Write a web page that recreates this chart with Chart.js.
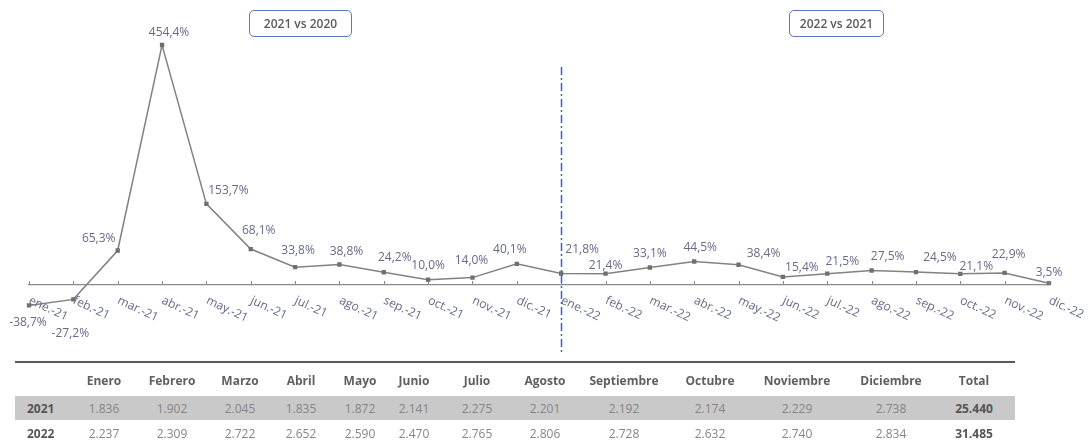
<!DOCTYPE html>
<html lang="es">
<head>
<meta charset="utf-8">
<script src="https://cdn.jsdelivr.net/npm/chart.js@4.4.1/dist/chart.umd.min.js"></script>
<style>
  html, body { margin: 0; padding: 0; background: #fff; }
  #wrap { position: relative; width: 1088px; height: 441px; overflow: hidden; font-family: "Open Sans", sans-serif; }
  #chart { position: absolute; left: 0; top: 0; }
  .tag { position: absolute; top: 10px; height: 25px; line-height: 25px; text-align: center;
         border: 1.5px solid #5b78c2; border-radius: 5px; font-size: 12px; font-weight: 600; color: #5a5a5a; }
  .cell { position: absolute; transform: translate(-50%, -50%); font-size: 12px; white-space: nowrap; }
  .head { font-weight: 700; color: #5f5f5f; }
  .num { color: #858585; }
  .bold { font-weight: 700; color: #555; }
  #rule { position: absolute; left: 15px; width: 1000px; top: 361px; height: 1.5px; background: #5a5a5a; }
  #band { position: absolute; left: 15px; width: 1000px; top: 396px; height: 24px; background: #c9c9c9; }
</style>
</head>
<body>
<div id="wrap">
  <canvas id="chart" width="1088" height="441"></canvas>
  <div id="rule"></div>
  <div id="band"></div>
</div>
<script>
// Monthly variation vs same month of the previous year (%)
const months = ['ene.-21', 'feb.-21', 'mar.-21', 'abr.-21', 'may.-21', 'jun.-21',
                'jul.-21', 'ago.-21', 'sep.-21', 'oct.-21', 'nov.-21', 'dic.-21',
                'ene.-22', 'feb.-22', 'mar.-22', 'abr.-22', 'may.-22', 'jun.-22',
                'jul.-22', 'ago.-22', 'sep.-22', 'oct.-22', 'nov.-22', 'dic.-22'];
const variation = [-38.7, -27.2, 65.3, 454.4, 153.7, 68.1, 33.8, 38.8, 24.2, 10.0, 14.0, 40.1,
                   21.8, 21.4, 33.1, 44.5, 38.4, 15.4, 21.5, 27.5, 24.5, 21.1, 22.9, 3.5];
const periodTags = ['2021 vs 2020', '2022 vs 2021'];

// Table below the chart
const tableMonths = ['Enero', 'Febrero', 'Marzo', 'Abril', 'Mayo', 'Junio', 'Julio',
                     'Agosto', 'Septiembre', 'Octubre', 'Noviembre', 'Diciembre'];
const years = ['2021', '2022'];
const units2021 = [1836, 1902, 2045, 1835, 1872, 2141, 2275, 2201, 2192, 2174, 2229, 2738];
const units2022 = [2237, 2309, 2722, 2652, 2590, 2470, 2765, 2806, 2728, 2632, 2740, 2834];
const totals = [25440, 31485];

// layout only: label nudges relative to each point [dx, dy]
const labelNudge = [[-1, 17], [-3, 34], [-19, -12], [7, -12], [22, -13], [8, -18],
                    [3, -17], [7, -13], [11, -15], [0, -14], [-1, -17], [-7, -14],
                    [21, -24], [0, -8], [0, -14], [6, -14], [25, -11], [19, -9],
                    [15, -12], [16, -14], [24, -14], [16, -7], [4, -18], [0, -11]];

const fmtInt = n => n.toString().replace(/\B(?=(\d{3})+(?!\d))/g, '.');
const fmtPct = v => v.toFixed(1).replace('.', ',') + '%';
const textColor = '#666a88';

const pointLabels = {
  id: 'pointLabels',
  afterDatasetsDraw(chart) {
    const ctx = chart.ctx;
    const pts = chart.getDatasetMeta(0).data;
    ctx.save();
    ctx.font = '12px "Open Sans", sans-serif';
    ctx.fillStyle = textColor;
    ctx.textAlign = 'center';
    ctx.textBaseline = 'middle';
    pts.forEach((p, i) => {
      ctx.fillText(fmtPct(variation[i]), p.x + labelNudge[i][0], p.y + labelNudge[i][1]);
    });
    ctx.restore();
  }
};

// upward tick marks, slanted month labels hanging from the zero line, year separator
const axisDecor = {
  id: 'axisDecor',
  afterDraw(chart) {
    const ctx = chart.ctx;
    const x = chart.scales.x, y = chart.scales.y;
    const zero = y.getPixelForValue(0);
    ctx.save();
    ctx.strokeStyle = '#8a8a8a';
    ctx.lineWidth = 1;
    months.forEach((m, i) => {
      const px = Math.round(x.getPixelForValue(i)) + 0.5;
      ctx.beginPath();
      ctx.moveTo(px, zero - 4);
      ctx.lineTo(px, zero);
      ctx.stroke();
    });
    ctx.font = '12px "Open Sans", sans-serif';
    ctx.fillStyle = textColor;
    ctx.textAlign = 'left';
    ctx.textBaseline = 'alphabetic';
    months.forEach((m, i) => {
      ctx.save();
      ctx.translate(x.getPixelForValue(i) - 1, zero + 18);
      ctx.rotate(25 * Math.PI / 180);
      ctx.fillText(m, 0, 0);
      ctx.restore();
    });
    const sx = Math.round(x.getPixelForValue(12)) + 0.5;
    ctx.strokeStyle = '#3f5fd0';
    ctx.lineWidth = 1.5;
    ctx.setLineDash([8, 3, 2, 3]);
    ctx.beginPath();
    ctx.moveTo(sx, 67);
    ctx.lineTo(sx, 355);
    ctx.stroke();
    ctx.restore();
  }
};

new Chart(document.getElementById('chart'), {
  type: 'line',
  data: {
    labels: months,
    datasets: [{
      data: variation,
      borderColor: '#828282',
      borderWidth: 1.5,
      pointStyle: 'rect',
      pointRadius: 2,
      pointBackgroundColor: '#707070',
      pointBorderColor: '#707070',
      tension: 0
    }]
  },
  options: {
    responsive: false,
    animation: false,
    layout: { padding: { left: 29, right: 39, top: 31.5, bottom: 124.3 } },
    plugins: { legend: { display: false }, tooltip: { enabled: false } },
    scales: {
      x: {
        position: { y: 0 },
        offset: false,
        ticks: { display: false },
        grid: { drawOnChartArea: false, drawTicks: false },
        border: { display: true, color: '#8a8a8a', width: 1.2 }
      },
      y: { display: false, min: -60, max: 480 }
    }
  },
  plugins: [pointLabels, axisDecor]
});

// period tags
const wrap = document.getElementById('wrap');
[[249, 101], [789, 93]].forEach((box, i) => {
  const d = document.createElement('div');
  d.className = 'tag';
  d.style.left = box[0] + 'px';
  d.style.width = box[1] + 'px';
  d.textContent = periodTags[i];
  wrap.appendChild(d);
});

// table
const colX = [104, 172, 240, 301, 360, 414, 477, 545, 624, 710, 797, 891];
const totalX = 974;
function cell(text, x, y, cls) {
  const d = document.createElement('div');
  d.className = 'cell ' + cls;
  d.style.left = x + 'px';
  d.style.top = y + 'px';
  d.textContent = text;
  wrap.appendChild(d);
}
tableMonths.forEach((m, i) => cell(m, colX[i], 380, 'head'));
cell('Total', totalX, 380, 'head');
[units2021, units2022].forEach((row, r) => {
  const y = r === 0 ? 408 : 433;
  const d = document.createElement('div');
  d.className = 'cell bold';
  d.style.left = '27px';
  d.style.top = y + 'px';
  d.style.transform = 'translateY(-50%)';
  d.textContent = years[r];
  wrap.appendChild(d);
  row.forEach((v, i) => cell(fmtInt(v), colX[i], y, 'num'));
  cell(fmtInt(totals[r]), totalX, y, 'bold');
});
</script>
</body>
</html>
